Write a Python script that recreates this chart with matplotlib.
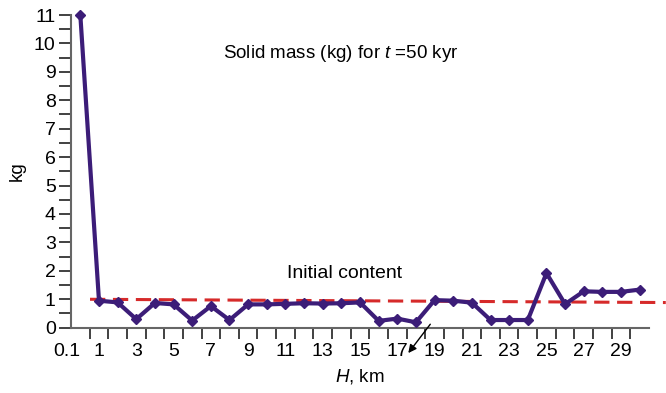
import matplotlib.pyplot as plt
import numpy as np

plt.rcParams['font.family'] = 'Liberation Sans'
plt.rcParams['mathtext.fontset'] = 'custom'
plt.rcParams['mathtext.it'] = 'Liberation Sans:italic'
plt.rcParams['mathtext.rm'] = 'Liberation Sans'

# H, km (categories)
h_labels = ['0.1'] + [str(i) for i in range(1, 31)]
solid_mass = [11.0, 0.95, 0.89, 0.30, 0.87, 0.82, 0.25, 0.76, 0.27, 0.82,
              0.82, 0.84, 0.86, 0.85, 0.86, 0.89, 0.24, 0.32, 0.19, 0.97,
              0.95, 0.88, 0.27, 0.27, 0.27, 1.92, 0.83, 1.28, 1.26, 1.26,
              1.34]
# initial content line: start / end values
initial_x = [0.52, 31.4]
initial_y = [1.0, 0.885]

purple = '#3c1d78'
axis_gray = '#666666'

fig = plt.figure(figsize=(6.66, 3.93), dpi=100)
ax = fig.add_axes([71 / 666, 1 - 327.7 / 393, 578 / 666, 312.7 / 393])

x = np.arange(len(h_labels))
ax.plot(initial_x, initial_y, color='#d62a2a', lw=2.2, dashes=(5, 2.5),
        clip_on=False, zorder=2)
ax.plot(x, solid_mass, color=purple, lw=3, marker='D', ms=5,
        clip_on=False, zorder=3)

ax.set_xlim(-0.5, len(h_labels) - 0.5)
ax.set_ylim(0, 11)

for s in ['top', 'right']:
    ax.spines[s].set_visible(False)
for s in ['left', 'bottom']:
    ax.spines[s].set_color(axis_gray)
    ax.spines[s].set_linewidth(1.5)

ax.set_yticks(np.arange(0, 12, 1))
ax.set_yticks(np.arange(0.5, 11, 1), minor=True)
ax.tick_params(axis='y', which='both', direction='out', length=9,
               width=1.3, color='#333333', labelsize=14, pad=2)

# boundaries get tick marks, centres get labels
ax.set_xticks(np.arange(0.5, len(h_labels) - 0.5, 1))
ax.set_xticklabels([])
lab_idx = [0] + list(range(1, 31, 2))
ax.set_xticks(lab_idx, minor=True)
ax.set_xticklabels([h_labels[i] for i in lab_idx], minor=True)
ax.tick_params(axis='x', which='major', direction='out', length=8,
               width=1.3, color='#333333')
ax.tick_params(axis='x', which='minor', length=0, labelsize=14, pad=11)
ax.get_xticklabels(minor=True)[0].set_horizontalalignment('right')

ax.set_ylabel('kg', fontsize=13.5, labelpad=6)
ax.set_xlabel('$H$, km', fontsize=13.5, labelpad=5)

ax.text(13.98, 9.65, 'Solid mass (kg) for $t$ =50 kyr', fontsize=13.5,
        ha='center', va='center')
ax.text(14.19, 1.89, 'Initial content', fontsize=14,
        ha='center', va='center')

ax.annotate('', xy=(17.5, -0.97), xytext=(18.86, 0.2),
            arrowprops=dict(arrowstyle='-|>', color='black', lw=1,
                            mutation_scale=12),
            annotation_clip=False)

fig.savefig('out.png', dpi=100)
